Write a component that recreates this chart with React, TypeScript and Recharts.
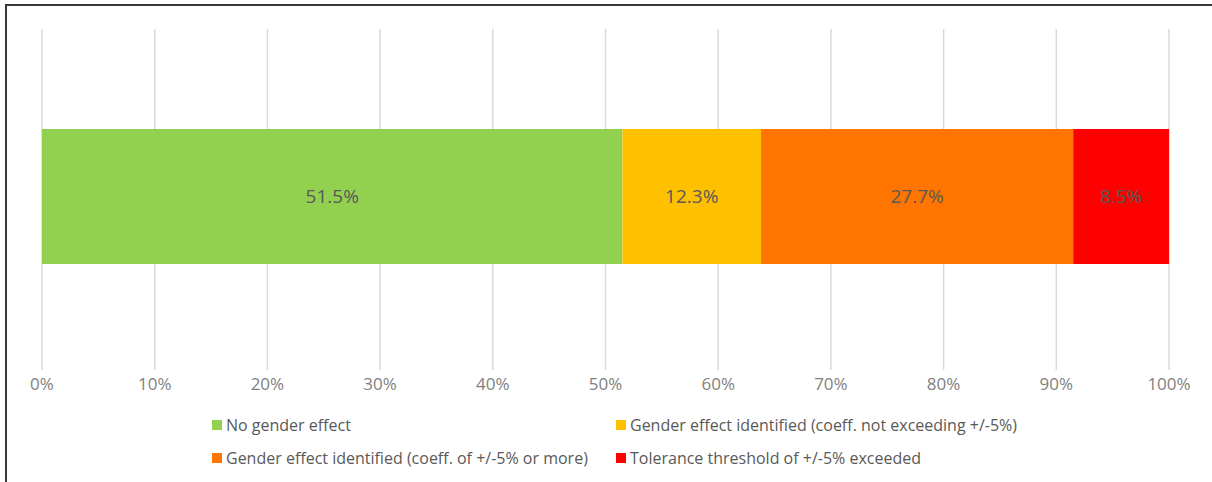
import { BarChart, Bar, XAxis, YAxis, CartesianGrid, Legend, LabelList } from 'recharts';

const categories = ['All employers'];
const seriesNames = [
  'No gender effect',
  'Gender effect identified (coeff. not exceeding +/-5%)',
  'Gender effect identified (coeff. of +/-5% or more)',
  'Tolerance threshold of +/-5% exceeded',
];
const noEffect = [51.5];
const effectBelow5 = [12.3];
const effectAbove5 = [27.7];
const thresholdExceeded = [8.5];
const xTicks = [0, 10, 20, 30, 40, 50, 60, 70, 80, 90, 100];

const COLORS = ['#92D050', '#FFC000', '#FF7500', '#FF0000'];
const KEYS = ['s0', 's1', 's2', 's3'];
const FONT = '"Open Sans", sans-serif';

const chartData = categories.map((name, i) => ({
  name,
  s0: noEffect[i],
  s1: effectBelow5[i],
  s2: effectAbove5[i],
  s3: thresholdExceeded[i],
}));

// legend order: row by row, two columns
const legendOrder = [0, 1, 2, 3];

function LegendBlock() {
  return (
    <div
      style={{
        display: 'grid',
        gridTemplateColumns: '404px 404px',
        rowGap: 12,
        paddingLeft: 170,
        paddingTop: 14,
        fontFamily: FONT,
        fontSize: 16,
        color: '#595959',
      }}
    >
      {legendOrder.map(i => (
        <div key={i} style={{ display: 'flex', alignItems: 'center', height: 21 }}>
          <span style={{ width: 10, height: 10, background: COLORS[i], marginRight: 4, flexShrink: 0 }} />
          <span style={{ whiteSpace: 'nowrap' }}>{seriesNames[i]}</span>
        </div>
      ))}
    </div>
  );
}

export default function App() {
  return (
    <div style={{ position: 'absolute', left: 0, top: 0, width: 1212, height: 482, background: '#fff' }}>
      <div
        style={{
          position: 'absolute',
          left: 5,
          top: 4,
          right: 0,
          bottom: 0,
          borderTop: '2px solid #3a3a3a',
          borderLeft: '2px solid #3a3a3a',
        }}
      />
      <BarChart
        width={1212}
        height={482}
        data={chartData}
        layout="vertical"
        margin={{ top: 29, right: 43, bottom: 0, left: 42 }}
        barSize={135}
      >
        <CartesianGrid horizontal={false} stroke="#d9d9d9" strokeWidth={1.5} />
        <XAxis
          type="number"
          domain={[0, 100]}
          ticks={xTicks}
          tickFormatter={v => `${v}%`}
          axisLine={false}
          tickLine={false}
          height={30}
          tick={{ fill: '#7f7f7f', fontSize: 17, fontFamily: FONT }}
        />
        <YAxis type="category" dataKey="name" hide padding={{ top: 0, bottom: 6 }} />
        <Legend verticalAlign="bottom" height={82} content={() => <LegendBlock />} />
        {KEYS.map((k, i) => (
          <Bar key={k} dataKey={k} name={seriesNames[i]} stackId="a" fill={COLORS[i]} isAnimationActive={false}>
            <LabelList
              dataKey={k}
              position="center"
              formatter={(v: any) => `${v}%`}
              fill="#595959"
              fontSize={19}
              fontFamily={FONT}
            />
          </Bar>
        ))}
      </BarChart>
    </div>
  );
}
